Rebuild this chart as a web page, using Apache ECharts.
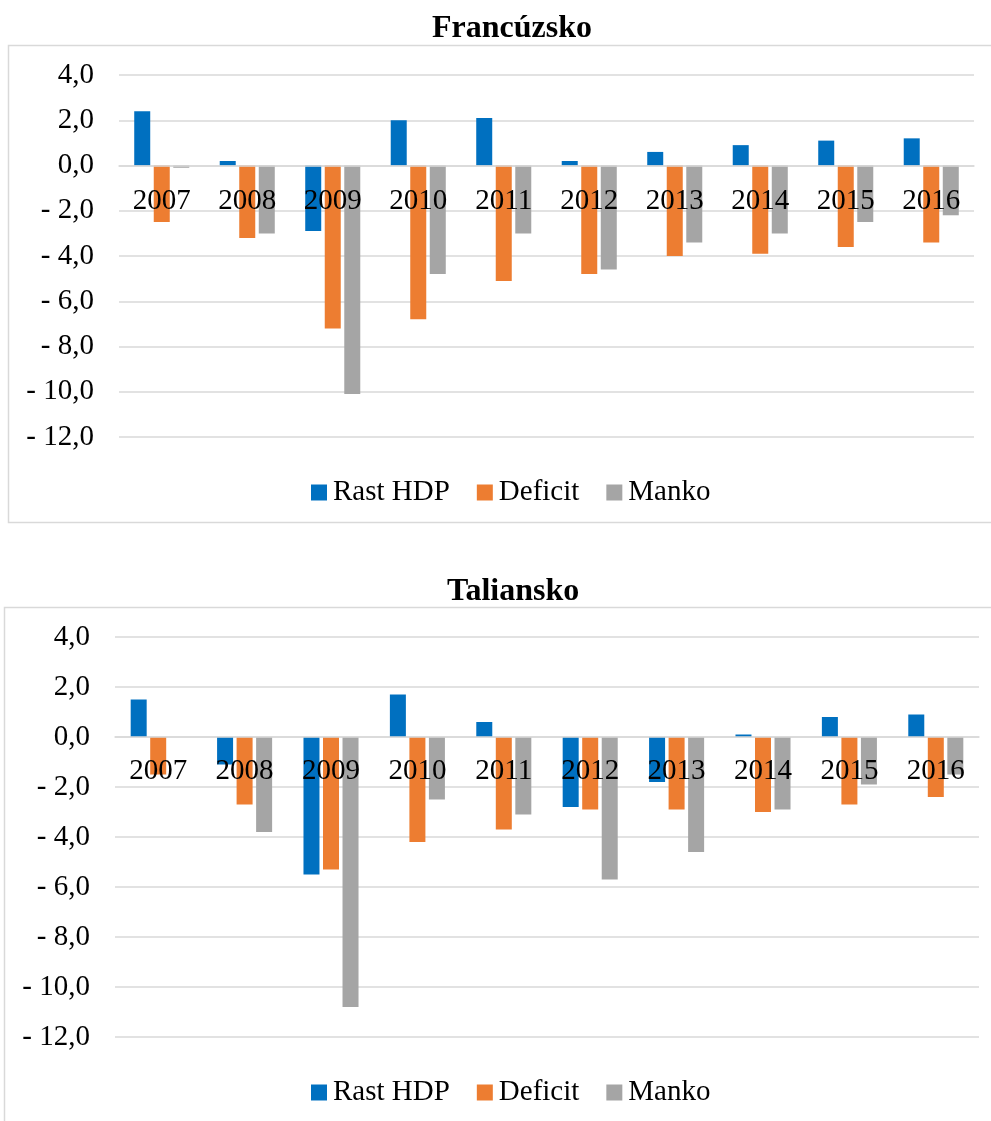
<!DOCTYPE html>
<html>
<head>
<meta charset="utf-8">
<script src="https://cdn.jsdelivr.net/npm/echarts@6/dist/echarts.min.js"></script>
<style>
  html, body { margin: 0; padding: 0; background: #fff; }
  #chart { width: 991px; height: 1121px; }
</style>
</head>
<body>
<div id="chart"></div>
<script>
// Years on the category axis
const years = ['2007', '2008', '2009', '2010', '2011', '2012', '2013', '2014', '2015', '2016'];
const seriesNames = ['Rast HDP', 'Deficit', 'Manko'];

// France
const franceGdp = [2.4, 0.2, -2.9, 2.0, 2.1, 0.2, 0.6, 0.9, 1.1, 1.2];
const franceDeficit = [-2.5, -3.2, -7.2, -6.8, -5.1, -4.8, -4.0, -3.9, -3.6, -3.4];
const franceManko = [-0.1, -3.0, -10.1, -4.8, -3.0, -4.6, -3.4, -3.0, -2.5, -2.2];

// Italy
const italyGdp = [1.5, -1.1, -5.5, 1.7, 0.6, -2.8, -1.8, 0.1, 0.8, 0.9];
const italyDeficit = [-1.5, -2.7, -5.3, -4.2, -3.7, -2.9, -2.9, -3.0, -2.7, -2.4];
const italyManko = [0, -3.8, -10.8, -2.5, -3.1, -5.7, -4.6, -2.9, -1.9, -1.5];

// Value axis range
const yMin = -12, yMax = 4, yStep = 2;

const colors = ['#0070C0', '#ED7D31', '#A5A5A5'];
const FONT = '"Liberation Serif", "Times New Roman", serif';

// Plot areas of the two panels
const grids = [
  { left: 119, right: 17, top: 75, height: 362 },
  { left: 115, right: 12, top: 637, height: 400 }
];

function fmt(v) {
  const s = Math.abs(v).toFixed(1).replace('.', ',');
  return v < 0 ? '- ' + s : s;
}

function yAxisCfg(gridIndex) {
  return {
    type: 'value', gridIndex, min: yMin, max: yMax, interval: yStep,
    axisLine: { show: false }, axisTick: { show: false },
    axisLabel: { formatter: fmt, fontFamily: FONT, fontSize: 29, color: '#000', margin: 25 },
    splitLine: { lineStyle: { color: '#d9d9d9', width: 1.5 } }
  };
}

// Category axis sits on the zero line of the value axis
function xAxisCfg(gridIndex) {
  const h = grids[gridIndex].height;
  const zeroFromBottom = h * (0 - yMin) / (yMax - yMin);
  return {
    type: 'category', gridIndex, data: years, z: 5,
    position: 'bottom', offset: -zeroFromBottom,
    axisLine: { onZero: false, lineStyle: { color: '#d9d9d9', width: 1.5 } },
    axisTick: { show: false },
    axisLabel: { fontFamily: FONT, fontSize: 29, color: '#000', margin: gridIndex === 0 ? 21 : 20, interval: 0 }
  };
}

function barSeries(name, data, idx, axisIdx) {
  return {
    name, type: 'bar', data,
    xAxisIndex: axisIdx, yAxisIndex: axisIdx,
    barWidth: 16, barGap: '22%',
    itemStyle: { color: colors[idx] },
    emphasis: { disabled: true }
  };
}

function legendCfg(top) {
  return {
    data: seriesNames, left: 306, top,
    icon: 'rect', itemWidth: 16, itemHeight: 16, itemGap: 27,
    textStyle: { fontFamily: FONT, fontSize: 29, color: '#000', padding: [0, 0, 0, 1] }
  };
}

const chart = echarts.init(document.getElementById('chart'), null, { renderer: 'canvas' });
chart.setOption({
  animation: false,
  color: colors,
  graphic: [
    { type: 'rect', shape: { x: 8.5, y: 45.5, width: 990, height: 477 }, style: { fill: 'none', stroke: '#d9d9d9', lineWidth: 1.5 }, z: -1 },
    { type: 'rect', shape: { x: 4.5, y: 607.5, width: 995, height: 530 }, style: { fill: 'none', stroke: '#d9d9d9', lineWidth: 1.5 }, z: -1 }
  ],
  title: [
    { text: 'Francúzsko', left: 427, top: 8, textStyle: { fontFamily: FONT, fontSize: 32, fontWeight: 'bold', color: '#000' } },
    { text: 'Taliansko', left: 442, top: 571, textStyle: { fontFamily: FONT, fontSize: 32, fontWeight: 'bold', color: '#000' } }
  ],
  legend: [legendCfg(473), legendCfg(1073)],
  grid: grids,
  xAxis: [xAxisCfg(0), xAxisCfg(1)],
  yAxis: [yAxisCfg(0), yAxisCfg(1)],
  series: [
    barSeries('Rast HDP', franceGdp, 0, 0),
    barSeries('Deficit', franceDeficit, 1, 0),
    barSeries('Manko', franceManko, 2, 0),
    barSeries('Rast HDP', italyGdp, 0, 1),
    barSeries('Deficit', italyDeficit, 1, 1),
    barSeries('Manko', italyManko, 2, 1)
  ]
});
</script>
</body>
</html>
